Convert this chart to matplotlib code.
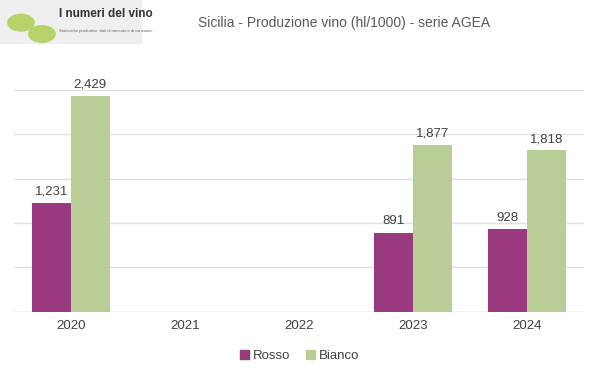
import matplotlib.pyplot as plt
import numpy as np
from matplotlib.patches import Rectangle

plt.rcParams['font.family'] = ['Liberation Sans', 'DejaVu Sans']

anni = ['2020', '2021', '2022', '2023', '2024']
rosso = [1231, None, None, 891, 928]
bianco = [2429, None, None, 1877, 1818]

fig = plt.figure(figsize=(5.99, 3.78), dpi=100)
ax = fig.add_axes([0.023, 0.175, 0.952, 0.587])

x = np.arange(len(anni))
w = 0.34
for i, (r, b) in enumerate(zip(rosso, bianco)):
    if r is not None:
        ax.bar(x[i] - w / 2, r, w, color='#993A7F', zorder=3)
        ax.text(x[i] - w / 2, r + 60, f'{r:,}', ha='center', va='bottom', fontsize=9.5, color='#404040')
    if b is not None:
        ax.bar(x[i] + w / 2, b, w, color='#B9CE97', zorder=3)
        ax.text(x[i] + w / 2, b + 60, f'{b:,}', ha='center', va='bottom', fontsize=9.5, color='#404040')

ax.set_xlim(-0.5, len(anni) - 0.5)
ax.set_ylim(0, 2500)
ax.set_yticks(np.arange(0, 2501, 500))
ax.yaxis.grid(True, color='#E0E0E0', linewidth=1, zorder=0)
ax.set_yticklabels([])
ax.tick_params(axis='y', length=0)
ax.set_xticks(x)
ax.set_xticklabels(anni, fontsize=9.5, color='#404040')
ax.tick_params(axis='x', length=0, pad=6)
for s in ax.spines.values():
    s.set_visible(False)
ax.axhline(0, color='#D9D9D9', linewidth=1, zorder=2)

fig.text(0.575, 0.94, 'Sicilia - Produzione vino (hl/1000) - serie AGEA', ha='center', va='center',
         fontsize=10, color='#595959')

# logo
fig.patches.append(Rectangle((0, 0.885), 0.235, 0.115, transform=fig.transFigure,
                             color='#EFEFEF', zorder=0))
fig.text(0.098, 0.955, 'I numeri del vino', fontsize=8.5, color='#333333', fontweight='bold')
fig.text(0.098, 0.915, 'Statistiche produttive, dati di mercato e di consumo.', fontsize=3, color='#666666')
fig.patches.append(plt.Circle((0.035, 0.94), 0.022, transform=fig.transFigure, color='#B5D36A'))
fig.patches.append(plt.Circle((0.07, 0.91), 0.022, transform=fig.transFigure, color='#B5D36A'))

handles = [Rectangle((0, 0), 1, 1, color='#993A7F'), Rectangle((0, 0), 1, 1, color='#B9CE97')]
fig.legend(handles, ['Rosso', 'Bianco'], loc='center', bbox_to_anchor=(0.5, 0.058), ncol=2,
           frameon=False, fontsize=9.5, handlelength=0.7, handleheight=0.7, handletextpad=0.3,
           columnspacing=1.2, labelcolor='#404040')

fig.savefig('out.png', dpi=100)
